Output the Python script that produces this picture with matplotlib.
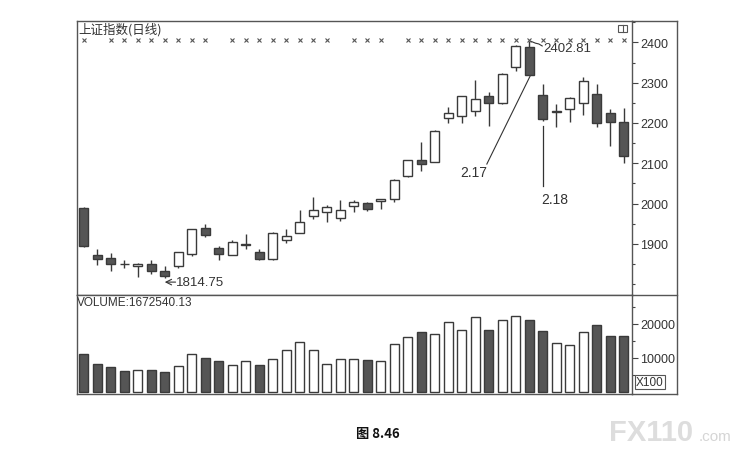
import numpy as np
import matplotlib.pyplot as plt
from matplotlib.lines import Line2D
from matplotlib.patches import Rectangle

# daily candles of the Shanghai index
opens = [1990, 1872, 1866, 1851, 1846, 1851, 1833, 1846, 1875, 1939,
         1889, 1873, 1897, 1879, 1862, 1910, 1927, 1968, 1978, 1963,
         1995, 2001, 2007, 2011, 2068, 2109, 2104, 2212, 2218, 2230,
         2267, 2250, 2338, 2388, 2270, 2227, 2235, 2249, 2273, 2224,
         2203]
closes = [1895, 1862, 1850, 1849, 1851, 1832, 1819, 1879, 1937, 1921,
          1875, 1904, 1899, 1862, 1927, 1920, 1955, 1984, 1992, 1984,
          2005, 1987, 2011, 2059, 2107, 2097, 2181, 2225, 2266, 2259,
          2249, 2321, 2392, 2320, 2210, 2229, 2261, 2305, 2199, 2203,
          2119]
highs = [1992, 1887, 1876, 1860, 1852, 1861, 1845, 1880, 1938, 1949,
         1894, 1909, 1924, 1887, 1929, 1938, 1984, 2017, 1996, 2008,
         2009, 2005, 2012, 2060, 2108, 2152, 2183, 2240, 2267, 2306,
         2276, 2323, 2394, 2402.81, 2297, 2247, 2265, 2313, 2296, 2234,
         2238]
lows = [1893, 1848, 1832, 1839, 1818, 1825, 1814.75, 1841, 1871, 1916,
        1860, 1872, 1887, 1861, 1861, 1901, 1926, 1962, 1954, 1957,
        1980, 1982, 1986, 2005, 2066, 2081, 2102, 2199, 2199, 2218,
        2193, 2246, 2330, 2318, 2206, 2189, 2203, 2219, 2191, 2142,
        2100]
volume = [11200, 8200, 7450, 6300, 6450, 6450, 6000, 7750, 11200, 10000,
          9000, 7950, 9200, 8050, 9700, 12350, 14600, 12350, 8250, 9700,
          9700, 9500, 9200, 14100, 16100, 17750, 17050, 20500, 18350, 22150,
          18350, 21200, 22450, 21200, 18050, 14400, 13800, 17550, 19800, 16550,
          16550]
# days with a "x" signal above the candles (0 = none)
signal = [1, 0, 1, 1, 1, 1, 1, 1, 1, 1,
          0, 1, 1, 1, 1, 1, 1, 1, 1, 0,
          1, 1, 1, 0, 1, 1, 1, 1, 1, 1,
          1, 1, 1, 1, 1, 1, 1, 1, 1, 1,
          1]
price_ticks = [1900, 2000, 2100, 2200, 2300, 2400]
volume_ticks = [10000, 20000]

W, H = 745, 456
DARK = '#555555'
EDGE = '#3a3a3a'
TXT = '#333333'


def fx(px):
    return px / W


def fy(py):
    return 1 - py / H


plt.rcParams['font.family'] = ['Liberation Sans', 'DejaVu Sans']

fig = plt.figure(figsize=(W / 100, H / 100), dpi=100)
ax = fig.add_axes([fx(77), fy(296), fx(632) - fx(77), fy(22) - fy(296)])
axv = fig.add_axes([fx(77), fy(395), fx(632) - fx(77), fy(296) - fy(395)], sharex=ax)

x = np.arange(len(opens))
o = np.array(opens, dtype=float)
c = np.array(closes, dtype=float)
down = c < o
face = np.where(down, DARK, 'white')

# candles
ax.vlines(x, lows, highs, color=EDGE, lw=1.0, zorder=2)
body = np.abs(c - o)
body = np.where(body < 1.0, 1.0, body)
ax.bar(x, body, bottom=np.minimum(o, c), width=0.66, color=face,
       edgecolor=EDGE, linewidth=1.0, zorder=3)

sig_x = [i for i, s in enumerate(signal) if s]
ax.plot(sig_x, [2406] * len(sig_x), 'x', ms=3.5, mew=0.8, color='#555555', zorder=4)

ax.set_xlim(-0.5, 40.6)
ax.set_ylim(1773, 2453)
ax.set_xticks([])
ax.yaxis.tick_right()
ax.set_yticks(price_ticks)
ax.set_yticks(np.arange(1800, 2451, 50), minor=True)
ax.tick_params(axis='y', which='major', direction='out', length=4, width=0.8,
               colors='#444444', labelsize=9, pad=2, labelcolor=TXT)
ax.tick_params(axis='y', which='minor', direction='out', length=2, width=0.8,
               colors='#444444')

# volume
axv.bar(x, volume, width=0.66, color=face, edgecolor=EDGE, linewidth=1.0)
axv.set_ylim(-590, 28530)
axv.yaxis.tick_right()
axv.set_yticks(volume_ticks)
axv.set_yticks([5000, 15000, 25000], minor=True)
axv.tick_params(axis='y', which='major', direction='out', length=4, width=0.8,
                colors='#444444', labelsize=9, pad=2, labelcolor=TXT)
axv.tick_params(axis='y', which='minor', direction='out', length=2, width=0.8,
                colors='#444444')
axv.tick_params(axis='x', bottom=False, labelbottom=False)

for a in (ax, axv):
    for s in a.spines.values():
        s.set_color('#555555')
        s.set_linewidth(1.0)

# frame lines running under the right-hand scale
for yy in (22, 296, 395):
    fig.add_artist(Line2D([fx(632), fx(677)], [fy(yy), fy(yy)], color='#555555', lw=1.0))
fig.add_artist(Line2D([fx(677), fx(677)], [fy(22), fy(395)], color='#555555', lw=1.0))

# texts
ax.text(0.002, 0.997, '上证指数(日线)', transform=ax.transAxes, ha='left', va='top',
        fontsize=9, color=TXT, family=['Noto Sans CJK SC', 'DejaVu Sans'])
axv.text(0.0, 0.99, 'VOLUME:1672540.13', transform=axv.transAxes, ha='left', va='top',
         fontsize=8.5, color=TXT)
fig.text(fx(636), fy(383), 'X100', fontsize=8.5, color=TXT, ha='left', va='center',
         bbox=dict(boxstyle='square,pad=0.1', fc='white', ec='#555555', lw=0.8))

ax.annotate('', xy=(6.0, 1805), xytext=(6.8, 1805),
            arrowprops=dict(arrowstyle='->', color=TXT, lw=0.8, shrinkA=0, shrinkB=0))
ax.text(6.8, 1805, '1814.75', fontsize=9.5, color=TXT, ha='left', va='center')
ax.text(34.0, 2385, '2402.81', fontsize=9.5, color=TXT, ha='left', va='center')
ax.plot([33.1, 33.45, 33.7, 33.95], [2402.81, 2398, 2396, 2391], color=TXT, lw=0.8)
ax.text(28.85, 2078, '2.17', fontsize=10, color=TXT, ha='center', va='center')
ax.plot([29.85, 33.05], [2098, 2316], color=TXT, lw=0.8)
ax.text(34.9, 2011, '2.18', fontsize=10, color=TXT, ha='center', va='center')
ax.plot([33.98, 33.98], [2192, 2044], color=TXT, lw=0.9)

# little window icon at top right
fig.add_artist(Rectangle((fx(618), fy(33)), fx(627) - fx(618), fy(26) - fy(33),
                         fill=False, ec='#555555', lw=0.8))
fig.add_artist(Line2D([fx(622.5), fx(622.5)], [fy(26), fy(33)], color='#555555', lw=0.8))

# caption and watermark
fig.text(fx(378), fy(434), '图 8.46', fontsize=9.5, fontweight='bold', color='#111111',
         ha='center', va='center', family=['Noto Sans CJK SC', 'DejaVu Sans'])
fig.text(fx(609), fy(441), 'FX110', fontsize=21, fontweight='bold', color='#dddddd',
         ha='left', va='baseline')
fig.text(fx(699), fy(441), '.com', fontsize=11, color='#d5d5d5', ha='left', va='baseline')

fig.savefig('out.png', dpi=100)
